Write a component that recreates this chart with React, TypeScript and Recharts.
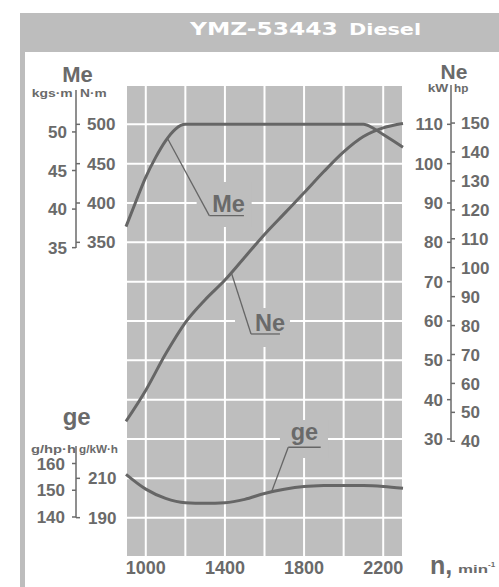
import {
  ComposedChart,
  Line,
  XAxis,
  YAxis,
  CartesianGrid,
  ReferenceLine,
  ReferenceArea,
} from 'recharts'

// engine speed n, min-1
const gridRpm = [1000, 1200, 1400, 1600, 1800, 2000, 2200]
const labelRpm = [1000, 1400, 1800, 2200]

// torque Me, N·m
const meRpm = [900, 950, 1000, 1050, 1100, 1150, 1200, 1400, 1600, 1800, 2000, 2100, 2150, 2200, 2250, 2300]
const meNm = [370, 402, 433, 458, 479, 494, 500, 500, 500, 500, 500, 500, 495, 487, 479, 471]

// power Ne, kW
const neRpm = [900, 1000, 1100, 1200, 1300, 1400, 1500, 1600, 1700, 1800, 1900, 2000, 2100, 2200, 2300]
const neKw = [34.5, 42.4, 51.6, 59.6, 65.4, 70.4, 76.2, 82, 87.3, 92.6, 98, 103, 106.9, 109.1, 110.2]

// specific fuel consumption ge, g/kW·h
const geRpm = [900, 1000, 1100, 1200, 1300, 1400, 1500, 1600, 1700, 1800, 1900, 2000, 2100, 2200, 2300]
const geGkwh = [212, 204.5, 199.8, 197.6, 197.3, 197.6, 199.3, 202.3, 204.4, 205.8, 206.3, 206.4, 206.3, 205.8, 204.9]

// axis ticks
const nmTicks = [350, 400, 450, 500]
const kgsTicks = [35, 40, 45, 50]
const kwGrid = [10, 20, 30, 40, 50, 60, 70, 80, 90, 100, 110]
const kwTicks = [30, 40, 50, 60, 70, 80, 90, 100, 110]
const hpTicks = [40, 50, 60, 70, 80, 90, 100, 110, 120, 130, 140, 150]
const gkwhTicks = [190, 210]
const ghphTicks = [140, 150, 160]

const KGS = 9.80665
const HP = 0.7355

const nmDomain = [-50, 550]
const kwDomain = [0, 120]
const gkwhDomain = [170, 410]

const PLOT = '#bebebe'
const CURVE = '#666666'
const TEXT = '#6a6a6a'
const FONT = '"Liberation Sans", Arial, sans-serif'

const ME_SPINE = 76
const NE_SPINE = 451

const meData = meRpm.map((rpm, i) => ({ rpm, v: meNm[i] }))
const neData = neRpm.map((rpm, i) => ({ rpm, v: neKw[i] }))
const geData = geRpm.map((rpm, i) => ({ rpm, v: geGkwh[i] }))
// same curves in the second units (they sit exactly under the visible ones)
const meKgsData = meData.map((d) => ({ rpm: d.rpm, v: d.v / KGS }))
const neHpData = neData.map((d) => ({ rpm: d.rpm, v: d.v / HP }))
const geHphData = geData.map((d) => ({ rpm: d.rpm, v: d.v * HP }))

function SideTick(props: any) {
  const { y, payload, spine, side, gap, show } = props
  if (show && !show.includes(payload.value)) return <g />
  const dir = side === 'left' ? -1 : 1
  return (
    <g>
      <line x1={spine} x2={spine + dir * 4} y1={y} y2={y} stroke={TEXT} strokeWidth={1.5} />
      <text
        x={spine + dir * gap}
        y={y}
        dy="0.36em"
        textAnchor={side === 'left' ? 'end' : 'start'}
        fontFamily={FONT}
        fontWeight="bold"
        fontSize={17}
        fill={TEXT}
      >
        {payload.value}
      </text>
    </g>
  )
}

function XTick(props: any) {
  const { x, payload } = props
  if (!labelRpm.includes(payload.value)) return <g />
  return (
    <text x={x} y={574} textAnchor="middle" fontFamily={FONT} fontWeight="bold" fontSize={18} fill={TEXT}>
      {payload.value}
    </text>
  )
}

function LeaderText(props: any) {
  const { viewBox, text, dx, dy } = props
  if (!viewBox) return null
  return (
    <text x={viewBox.x + dx} y={viewBox.y + dy} fontFamily={FONT} fontWeight="bold" fontSize={23.5} fill={TEXT}>
      {text}
    </text>
  )
}

const unitStyle = { fontFamily: FONT, fontWeight: 'bold' as const, fontSize: 10, fill: TEXT }
const titleStyle = { fontFamily: FONT, fontWeight: 'bold' as const, fill: TEXT }

const axisCommon = { width: 1, interval: 0 as const, axisLine: false, tickLine: false, allowDataOverflow: true }

export default function App() {
  return (
    <div style={{ position: 'absolute', left: 0, top: 0, width: 499, height: 587, background: '#fff', overflow: 'hidden' }}>
      <ComposedChart width={499} height={587} margin={{ top: 85, right: 94, bottom: 0, left: 122 }}>
        <XAxis
          dataKey="rpm"
          type="number"
          domain={[900, 2300]}
          ticks={gridRpm}
          interval={0}
          axisLine={false}
          tickLine={false}
          height={30}
          tick={XTick}
        />
        <YAxis
          yAxisId="kw"
          orientation="right"
          domain={kwDomain}
          ticks={kwGrid}
          {...axisCommon}
          tick={(p: any) => <SideTick {...p} spine={NE_SPINE} side="left" gap={8} show={kwTicks} />}
        />
        <YAxis
          yAxisId="hp"
          orientation="right"
          domain={[kwDomain[0] / HP, kwDomain[1] / HP]}
          ticks={hpTicks}
          {...axisCommon}
          tick={(p: any) => <SideTick {...p} spine={NE_SPINE} side="right" gap={10} />}
        />
        <YAxis
          yAxisId="nm"
          domain={nmDomain}
          ticks={nmTicks}
          {...axisCommon}
          tick={(p: any) => <SideTick {...p} spine={ME_SPINE} side="right" gap={11} />}
        />
        <YAxis
          yAxisId="kgs"
          domain={[nmDomain[0] / KGS, nmDomain[1] / KGS]}
          ticks={kgsTicks}
          {...axisCommon}
          tick={(p: any) => <SideTick {...p} spine={ME_SPINE} side="left" gap={9} />}
        />
        <YAxis
          yAxisId="gkwh"
          domain={gkwhDomain}
          ticks={gkwhTicks}
          {...axisCommon}
          tick={(p: any) => <SideTick {...p} spine={ME_SPINE} side="right" gap={12} />}
        />
        <YAxis
          yAxisId="ghph"
          domain={[gkwhDomain[0] * HP, gkwhDomain[1] * HP]}
          ticks={ghphTicks}
          {...axisCommon}
          tick={(p: any) => <SideTick {...p} spine={ME_SPINE} side="left" gap={11} />}
        />
        <CartesianGrid yAxisId="kw" stroke="#ffffff" strokeWidth={2} fill={PLOT} fillOpacity={1} />

        {/* label patches that break the grid behind the curve names */}
        <ReferenceArea yAxisId="nm" x1={1257} x2={1535} y1={369.5} y2={426.7} fill={PLOT} fillOpacity={1} stroke="none" />
        <ReferenceArea yAxisId="kw" x1={1451} x2={1729} y1={53.4} y2={63.3} fill={PLOT} fillOpacity={1} stroke="none" />
        <ReferenceArea yAxisId="gkwh" x1={1678} x2={1921} y1={220.3} y2={239.7} fill={PLOT} fillOpacity={1} stroke="none" />

        <Line yAxisId="kgs" data={meKgsData} dataKey="v" type="monotone" stroke="none" dot={false} isAnimationActive={false} />
        <Line yAxisId="hp" data={neHpData} dataKey="v" type="monotone" stroke="none" dot={false} isAnimationActive={false} />
        <Line yAxisId="ghph" data={geHphData} dataKey="v" type="monotone" stroke="none" dot={false} isAnimationActive={false} />

        <Line yAxisId="nm" data={meData} dataKey="v" type="monotone" stroke={CURVE} strokeWidth={3} dot={false} isAnimationActive={false} />
        <Line yAxisId="kw" data={neData} dataKey="v" type="monotone" stroke={CURVE} strokeWidth={3} dot={false} isAnimationActive={false} />
        <Line yAxisId="gkwh" data={geData} dataKey="v" type="monotone" stroke={CURVE} strokeWidth={3} dot={false} isAnimationActive={false} />

        {/* leaders */}
        <ReferenceLine yAxisId="nm" segment={[{ x: 1112, y: 481 }, { x: 1321, y: 384 }]} stroke={CURVE} strokeWidth={1.3} />
        <ReferenceLine
          yAxisId="nm"
          segment={[{ x: 1321, y: 384 }, { x: 1496, y: 384 }]}
          stroke={CURVE}
          strokeWidth={1.3}
          label={<LeaderText text="Me" dx={3} dy={-3.5} />}
        />
        <ReferenceLine yAxisId="kw" segment={[{ x: 1434, y: 72 }, { x: 1532, y: 56.7 }]} stroke={CURVE} strokeWidth={1.3} />
        <ReferenceLine
          yAxisId="kw"
          segment={[{ x: 1532, y: 56.7 }, { x: 1678, y: 56.7 }]}
          stroke={CURVE}
          strokeWidth={1.3}
          label={<LeaderText text="Ne" dx={4} dy={-2.5} />}
        />
        <ReferenceLine yAxisId="gkwh" segment={[{ x: 1636, y: 203.2 }, { x: 1720, y: 225.8 }]} stroke={CURVE} strokeWidth={1.3} />
        <ReferenceLine
          yAxisId="gkwh"
          segment={[{ x: 1720, y: 225.8 }, { x: 1884, y: 225.8 }]}
          stroke={CURVE}
          strokeWidth={1.3}
          label={<LeaderText text="ge" dx={2.5} dy={-7} />}
        />
      </ComposedChart>

      <svg width={499} height={587} style={{ position: 'absolute', left: 0, top: 0, pointerEvents: 'none' }}>
        {/* frame */}
        <rect x={20} y={13} width={479} height={39} fill="#bdbdbd" />
        <rect x={20} y={52} width={5} height={535} fill="#bdbdbd" />
        <text transform="translate(190,35) scale(1.3,1)" fontFamily='"DejaVu Sans", Verdana, sans-serif' fontWeight="bold" fontSize={18} fill="#fff">
          YMZ-53443
        </text>
        <text transform="translate(349,35) scale(1.3,1)" fontFamily='"DejaVu Sans", Verdana, sans-serif' fontWeight="bold" fontSize={16} fill="#fff">
          Diesel
        </text>

        {/* axis spines */}
        <line x1={ME_SPINE} x2={ME_SPINE} y1={90} y2={248} stroke={TEXT} strokeWidth={1.5} />
        <line x1={ME_SPINE} x2={ME_SPINE} y1={446} y2={517.5} stroke={TEXT} strokeWidth={1.5} />
        <line x1={NE_SPINE} x2={NE_SPINE} y1={85} y2={442} stroke={TEXT} strokeWidth={1.5} />

        {/* axis titles and units */}
        <text x={77.5} y={82} textAnchor="middle" fontSize={22} {...titleStyle}>Me</text>
        <text x={31.7} y={97} textLength={41} lengthAdjust="spacingAndGlyphs" {...unitStyle}>kgs·m</text>
        <text x={80} y={97} textLength={26.7} lengthAdjust="spacingAndGlyphs" {...unitStyle}>N·m</text>

        <text x={76.7} y={425} textAnchor="middle" fontSize={24} {...titleStyle}>ge</text>
        <text x={31} y={453} textLength={45} lengthAdjust="spacingAndGlyphs" {...unitStyle}>g/hp·h</text>
        <text x={79} y={453} textLength={39} lengthAdjust="spacingAndGlyphs" {...unitStyle}>g/kW·h</text>

        <text x={454} y={79} textAnchor="middle" fontSize={21} {...titleStyle}>Ne</text>
        <text x={427.7} y={91.5} textLength={20.6} lengthAdjust="spacingAndGlyphs" {...unitStyle}>kW</text>
        <text x={454} y={91.5} textLength={14.3} lengthAdjust="spacingAndGlyphs" {...unitStyle}>hp</text>

        <text x={430} y={574} fontSize={25} {...titleStyle}>n,</text>
        <text x={458} y={573} textLength={30} lengthAdjust="spacingAndGlyphs" {...unitStyle}>min</text>
        <text x={488} y={567} fontFamily={FONT} fontWeight="bold" fontSize={8} fill={TEXT}>-1</text>
      </svg>
    </div>
  )
}
